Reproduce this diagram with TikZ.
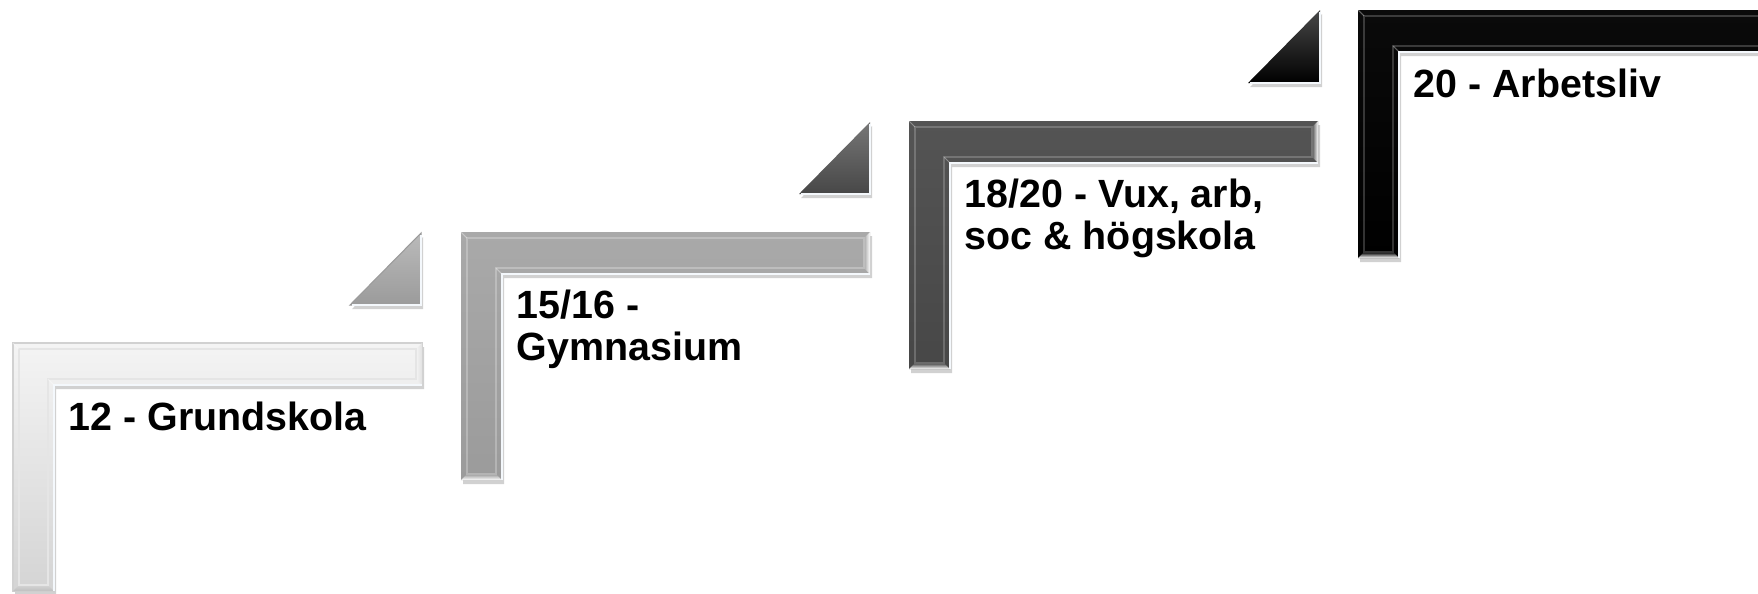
\documentclass[tikz,border=0pt]{standalone}
\usepackage{fontspec}
\setmainfont{Liberation Sans}
\usetikzlibrary{calc}

\definecolor{stepone}{HTML}{F4F4F4}
\definecolor{steponelow}{HTML}{D4D4D4}
\definecolor{steptwo}{HTML}{A9A9A9}
\definecolor{steptwolow}{HTML}{9B9B9B}
\definecolor{stepthree}{HTML}{545454}
\definecolor{stepthreelow}{HTML}{474747}
\definecolor{stepfour}{HTML}{0A0A0A}
\definecolor{stepfourlow}{HTML}{000000}
\definecolor{shine}{HTML}{F4F8FC}

\begin{document}
\begin{tikzpicture}[x=0.01cm,y=-0.01cm,
	frameshadow/.style={fill=black,opacity=0.18},
	highlight/.style={draw=shine,line width=0.7pt},
	miter/.style={draw=white,opacity=0.35,line width=0.3pt},
	steptext/.style={anchor=base west,inner sep=0pt,align=left,
		font=\fontsize{11.2}{11.8}\selectfont\bfseries}]

% canvas %{{{2

	\useasboundingbox (0,0) rectangle (1758,593);
	\clip (0,0) rectangle (1758,593);

% step 1 %{{{2

	\begin{scope}[shift={(13,343)}]
	\fill[frameshadow] (2,4) -- (411,4) -- (411,46) -- (43,46) -- (43,252) -- (2,252) -- cycle;
	\shade[top color=stepone,bottom color=steponelow,draw=black!18,line width=0.3pt]
		(0,0) -- (409,0) -- (409,42) -- (41,42) -- (41,248) -- (0,248) -- cycle;
	\shade[left color=stepone,right color=black!12] (403,6) -- (409,0) -- (409,42) -- (403,36) -- cycle;
	\shade[top color=steponelow,bottom color=black!25] (6,242) -- (35,242) -- (41,248) -- (0,248) -- cycle;
	\draw[draw=black!10,line width=0.3pt] (6,6) -- (403,6) -- (403,36) -- (35,36) -- (35,242) -- (6,242) -- cycle;
	\draw[miter] (0,0) -- (6,6) (41,42) -- (35,36);
	\draw[highlight] (409,42) -- (41,42) -- (41,248);
	\node[steptext] (grund) at (55,87) {12 - Grundskola};
	\end{scope}

% triangle 1 %{{{2

	\fill[frameshadow] (352,309) -- (423,237) -- (423,309) -- cycle;
	\shade[top color=steptwo!80,bottom color=steptwolow,draw=steptwolow,line width=0.3pt]
		(350,305) -- (421,233) -- (421,305) -- cycle;
	\draw[highlight] (421,235) -- (421,305) -- (352,305);

% step 2 %{{{2

	\begin{scope}[shift={(461,232)}]
	\fill[frameshadow] (2,4) -- (411,4) -- (411,46) -- (43,46) -- (43,252) -- (2,252) -- cycle;
	\shade[top color=steptwo,bottom color=steptwolow]
		(0,0) -- (409,0) -- (409,42) -- (41,42) -- (41,248) -- (0,248) -- cycle;
	\shade[left color=steptwo,right color=white] (403,6) -- (409,0) -- (409,42) -- (403,36) -- cycle;
	\shade[top color=steptwolow,bottom color=white] (6,242) -- (35,242) -- (41,248) -- (0,248) -- cycle;
	\draw[draw=white,opacity=0.25,line width=0.3pt] (6,6) -- (403,6) -- (403,36) -- (35,36) -- (35,242) -- (6,242) -- cycle;
	\draw[miter] (0,0) -- (6,6) (41,42) -- (35,36);
	\draw[highlight] (409,42) -- (41,42) -- (41,248);
	\node[steptext] (gymn) at (55,128) {15/16 -\\Gymnasium};
	\end{scope}

% triangle 2 %{{{2

	\fill[frameshadow] (801,198) -- (872,126) -- (872,198) -- cycle;
	\shade[top color=stepthree!80,bottom color=stepthreelow]
		(799,194) -- (870,122) -- (870,194) -- cycle;
	\draw[highlight] (870,124) -- (870,194) -- (801,194);

% step 3 %{{{2

	\begin{scope}[shift={(909,121)}]
	\fill[frameshadow] (2,4) -- (411,4) -- (411,46) -- (43,46) -- (43,252) -- (2,252) -- cycle;
	\shade[top color=stepthree,bottom color=stepthreelow]
		(0,0) -- (409,0) -- (409,42) -- (41,42) -- (41,248) -- (0,248) -- cycle;
	\shade[left color=stepthree,right color=white] (403,6) -- (409,0) -- (409,42) -- (403,36) -- cycle;
	\shade[top color=stepthreelow,bottom color=white] (6,242) -- (35,242) -- (41,248) -- (0,248) -- cycle;
	\draw[draw=white,opacity=0.2,line width=0.3pt] (6,6) -- (403,6) -- (403,36) -- (35,36) -- (35,242) -- (6,242) -- cycle;
	\draw[miter] (0,0) -- (6,6) (41,42) -- (35,36);
	\draw[highlight] (409,42) -- (41,42) -- (41,248);
	\node[steptext] (vux) at (55,128) {18/20 - Vux, arb,\\soc \& högskola};
	\end{scope}

% triangle 3 %{{{2

	\fill[frameshadow] (1250,87) -- (1322,14) -- (1322,87) -- cycle;
	\shade[top color=stepfour!75,bottom color=stepfourlow]
		(1248,83) -- (1320,10) -- (1320,83) -- cycle;
	\draw[highlight] (1320,12) -- (1320,83) -- (1250,83);

% step 4 %{{{2

	\begin{scope}[shift={(1358,10)}]
	\fill[frameshadow] (2,4) -- (411,4) -- (411,46) -- (43,46) -- (43,252) -- (2,252) -- cycle;
	\shade[top color=stepfour,bottom color=stepfourlow]
		(0,0) -- (409,0) -- (409,42) -- (41,42) -- (41,248) -- (0,248) -- cycle;
	\shade[top color=stepfourlow,bottom color=white] (6,242) -- (35,242) -- (41,248) -- (0,248) -- cycle;
	\draw[draw=white,opacity=0.2,line width=0.3pt] (6,6) -- (403,6) -- (403,36) -- (35,36) -- (35,242) -- (6,242) -- cycle;
	\draw[miter] (0,0) -- (6,6) (41,42) -- (35,36);
	\draw[highlight] (409,42) -- (41,42) -- (41,248);
	\node[steptext] (arbete) at (55,87) {20 - Arbetsliv};
	\end{scope}

\end{tikzpicture}
\end{document}
